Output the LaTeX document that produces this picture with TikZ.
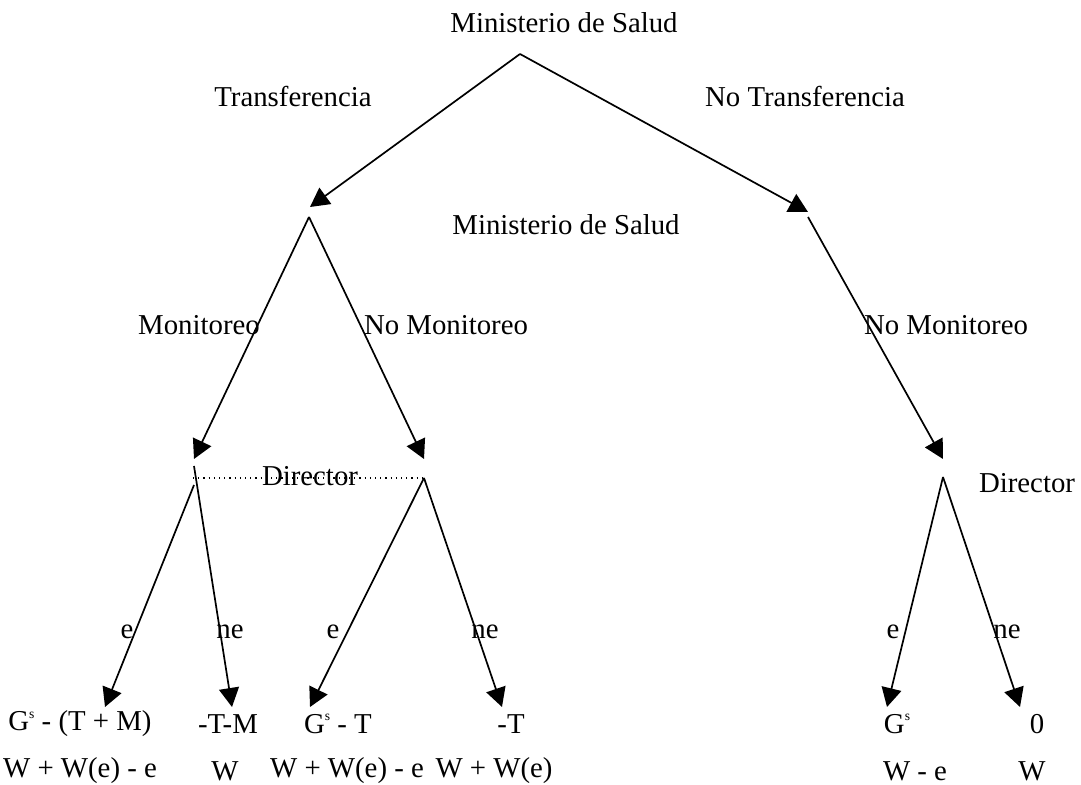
\documentclass[tikz,border=0pt]{standalone}
\usepackage{fontspec}
\setmainfont{Liberation Serif}
\usetikzlibrary{arrows.meta}
\newcommand{\supS}{\raisebox{6.3pt}{\fontsize{6.8}{6.8}\selectfont s}}
\begin{document}
\begin{tikzpicture}[x=0.5pt,y=-0.5pt,
  lbl/.style={inner sep=0pt,font=\fontsize{14.4}{17}\selectfont},
  edge/.style={line width=0.85pt},
  arr/.style={edge,-{Triangle[length=9.5pt,width=10pt]}},
  infoset/.style={line width=0.6pt,dotted}]
\useasboundingbox (0,0) rectangle (1081,785);
% vertices
\coordinate (root) at (520,54);
\coordinate (t1) at (310,207);
\coordinate (m1) at (309,217);
\coordinate (t2) at (808,212);
\coordinate (m2) at (808,217);
\coordinate (a1) at (194,459);
\coordinate (d1a) at (194,466);
\coordinate (d1b) at (194,485);
\coordinate (a2) at (424,459);
\coordinate (d2) at (424,478);
\coordinate (a3) at (943,459);
\coordinate (d3) at (943,477);
\coordinate (i1) at (193,478);
\coordinate (l1) at (105,707);
\coordinate (l2) at (232,707);
\coordinate (l3) at (310,707);
\coordinate (l4) at (502,707);
\coordinate (l5) at (887,707);
\coordinate (l6) at (1020,707);
% edges
\draw[arr] (root) -- (t1);
\draw[arr] (root) -- (t2);
\draw[arr] (m1) -- (a1);
\draw[arr] (m1) -- (a2);
\draw[arr] (m2) -- (a3);
\draw[arr] (d1b) -- (l1);
\draw[arr] (d1a) -- (l2);
\draw[arr] (d2) -- (l3);
\draw[arr] (d2) -- (l4);
\draw[arr] (d3) -- (l5);
\draw[arr] (d3) -- (l6);
\draw[infoset] (i1) -- (d2);
% labels
\node[lbl] (ms1) at (564,23) {Ministerio de Salud};
\node[lbl] (tr) at (293,97) {Transferencia};
\node[lbl] (ntr) at (805,97) {No Transferencia};
\node[lbl] (ms2) at (566,225) {Ministerio de Salud};
\node[lbl] (mon) at (199,325) {Monitoreo};
\node[lbl] (nmon1) at (446,325) {No Monitoreo};
\node[lbl] (nmon2) at (946,325) {No Monitoreo};
\node[lbl] (dir1) at (310,476) {Director};
\node[lbl] (dir2) at (1027,483) {Director};
\node[lbl] (e1) at (127,632) {e};
\node[lbl] (ne1) at (230,632) {ne};
\node[lbl] (e2) at (333,632) {e};
\node[lbl] (ne2) at (485,632) {ne};
\node[lbl] (e3) at (893,632) {e};
\node[lbl] (ne3) at (1007,632) {ne};
% payoffs
\node[lbl] (p1a) at (80,724) {G\supS{} - (T + M)};
\node[lbl] (p2a) at (228,724) {-T-M};
\node[lbl] (p3a) at (338,724) {G\supS{} - T};
\node[lbl] (p4a) at (511,724) {-T};
\node[lbl] (p5a) at (897,724) {G\supS};
\node[lbl] (p6a) at (1037,724) {0};
\node[lbl] (p1b) at (80,771) {W + W(e) - e};
\node[lbl] (p2b) at (225,771) {W};
\node[lbl] (p3b) at (347,771) {W + W(e) - e};
\node[lbl] (p4b) at (494,771) {W + W(e)};
\node[lbl] (p5b) at (915,771) {W - e};
\node[lbl] (p6b) at (1032,771) {W};
\end{tikzpicture}
\end{document}
